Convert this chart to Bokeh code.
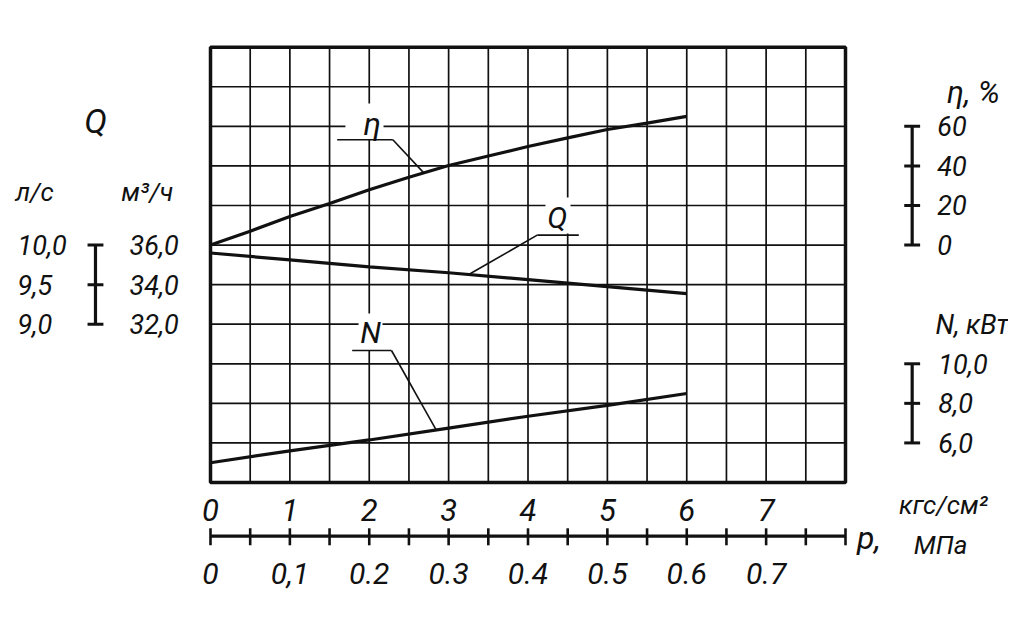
import numpy as np
from bokeh.plotting import figure
from bokeh.models import Range1d
from bokeh.core.properties import value
from bokeh.embed import file_html
from bokeh.resources import INLINE

# ---------------- data ----------------
pressure_eta = [0, 0.5, 1, 1.5, 2, 2.5, 3, 3.5, 4, 4.5, 5, 5.5, 6]          # kgf/cm2
efficiency = [0, 7, 14.4, 21, 28, 34.3, 40.2, 45, 49.8, 54.2, 58.4, 61.6, 65]  # %
pressure = [0, 1, 2, 3, 4, 5, 6]                                              # kgf/cm2
flow_m3h = [35.6, 35.25, 34.9, 34.6, 34.25, 33.9, 33.55]                      # m3/h
power_kw = [5.0, 5.6, 6.15, 6.75, 7.35, 7.9, 8.5]                             # kW

kgf_ticks = [0, 1, 2, 3, 4, 5, 6, 7]
kgf_labels = ["0", "1", "2", "3", "4", "5", "6", "7"]
mpa_ticks = [0, 0.1, 0.2, 0.3, 0.4, 0.5, 0.6, 0.7]
mpa_labels = ["0", "0,1", "0.2", "0.3", "0.4", "0.5", "0.6", "0.7"]

q_m3h_ticks = [32.0, 34.0, 36.0]
q_m3h_labels = ["32,0", "34,0", "36,0"]
q_ls_labels = ["9,0", "9,5", "10,0"]
eta_ticks = [0, 20, 40, 60]
eta_labels = ["0", "20", "40", "60"]
n_ticks = [6.0, 8.0, 10.0]
n_labels = ["6,0", "8,0", "10,0"]

# ---------------- geometry ----------------
W, H = 1008, 602
X0, X1 = 210.0, 845.0      # frame px of p = 0 and p = 8
Y0, Y1 = 482.0, 46.7       # frame px of grid bottom (u=0) and top (u=11)
NX, NY = 8.0, 11.0
sx = (X1 - X0) / NX
sy = (Y0 - Y1) / NY
x_start, x_end = -X0 / sx, (W - X0) / sx
y_start, y_end = -(H - Y0) / sy, Y0 / sy

FONT = "Roboto"
BLACK = "#111111"

p = figure(width=W, height=H, x_range=Range1d(x_start, x_end), y_range=Range1d(y_start, y_end),
           output_backend="svg", toolbar_location=None, min_border=0,
           x_axis_type=None, y_axis_type=None, outline_line_color=None,
           background_fill_color="white", border_fill_color="white")
p.xgrid.visible = False
p.ygrid.visible = False

# secondary scales (grid units u -> physical quantity)
p.extra_y_ranges = {
    "eta": Range1d(20 * (y_start - 6), 20 * (y_end - 6)),
    "Q": Range1d(24 + 2 * y_start, 24 + 2 * y_end),
    "N": Range1d(4 + 2 * y_start, 4 + 2 * y_end),
}
p.extra_x_ranges = {"mpa": Range1d(x_start / 10, x_end / 10)}


def txt(x, y, t, size, align="center", yr="default", xr="default", style="italic"):
    p.text(x=x, y=y, text=t, text_font=value(FONT), text_font_style=style,
           text_font_size=size, text_align=align, text_baseline="middle",
           text_color=BLACK, y_range_name=yr, x_range_name=xr)


# ---------------- grid ----------------
gx = np.arange(0.5, NX, 0.5)
gy = np.arange(1, NY, 1)
p.segment(x0=gx, y0=0, x1=gx, y1=NY, line_color=BLACK, line_width=1.7)
p.segment(x0=0, y0=gy, x1=NX, y1=gy, line_color=BLACK, line_width=1.7)

# white boxes behind curve labels
boxes_l = [1.70, 4.22, 1.865]
boxes_r = [2.18, 4.535, 2.167]
boxes_b = [8.67, 6.29, 3.34]
boxes_t = [9.58, 7.20, 4.27]
p.quad(left=boxes_l, right=boxes_r, bottom=boxes_b, top=boxes_t,
       fill_color="white", line_color=None)

# frame
p.rect(x=NX / 2, y=NY / 2, width=NX, height=NY, fill_color=None,
       line_color=BLACK, line_width=3.5)

# ---------------- curves ----------------
p.line(pressure_eta, efficiency, y_range_name="eta", line_color=BLACK, line_width=3.2)
p.line(pressure, flow_m3h, y_range_name="Q", line_color=BLACK, line_width=3.2)
p.line(pressure, power_kw, y_range_name="N", line_color=BLACK, line_width=3.2)

# leaders
eta_px = 2.687
q_px = 3.254
n_px = 2.843
eta_at = float(np.interp(eta_px, pressure_eta, efficiency))
q_at = float(np.interp(q_px, pressure, flow_m3h))
n_at = float(np.interp(n_px, pressure, power_kw))
p.line([1.596, 2.297], [8.66, 8.66], line_color=BLACK, line_width=1.6)
p.line([2.297, eta_px], [8.66, 6 + eta_at / 20], line_color=BLACK, line_width=1.6)
p.line([4.64, 4.116], [6.25, 6.25], line_color=BLACK, line_width=1.6)
p.line([4.116, q_px], [6.25, (q_at - 24) / 2], line_color=BLACK, line_width=1.6)
p.line([1.785, 2.28], [3.336, 3.336], line_color=BLACK, line_width=1.6)
p.line([2.28, n_px], [3.336, (n_at - 4) / 2], line_color=BLACK, line_width=1.6)

txt([2.037], [9.05], ["η"], "32px")
txt([4.368], [6.69], ["Q"], "30px")
txt([2.016], [3.78], ["N"], "30px")

# ---------------- bottom pressure scale ----------------
ybar = -1.357
st = np.arange(0, NX + 0.5, 0.5)
p.segment(x0=0, y0=ybar, x1=NX, y1=ybar, line_color=BLACK, line_width=3.2)
p.segment(x0=st, y0=ybar + 0.2, x1=st, y1=ybar - 0.23, line_color=BLACK, line_width=2.6)
txt(kgf_ticks, [-0.69] * len(kgf_ticks), kgf_labels, "31px")
txt(mpa_ticks, [-2.29] * len(mpa_ticks), mpa_labels, "30px", xr="mpa")
txt([8.145], [-1.40], ["р,"], "32px", align="left")
txt([9.235], [-0.57], ["кгс/см²"], "26px")
txt([9.197], [-1.58], ["МПа"], "26px")

# ---------------- left Q scale ----------------
xq = -1.449
p.segment(x0=xq, y0=q_m3h_ticks[0], x1=xq, y1=q_m3h_ticks[-1], y_range_name="Q",
          line_color=BLACK, line_width=3.2)
p.segment(x0=xq - 0.1, y0=q_m3h_ticks, x1=xq + 0.1, y1=q_m3h_ticks, y_range_name="Q",
          line_color=BLACK, line_width=3.0)
txt([-2.431] * 3, q_m3h_ticks, q_ls_labels, "27px", align="left", yr="Q")
txt([-1.02] * 3, q_m3h_ticks, q_m3h_labels, "27px", align="left", yr="Q")
txt([xq], [9.13], ["Q"], "34px")
txt([-2.217], [7.34], ["л/с"], "26px")
txt([-0.797], [7.34], ["м³/ч"], "26px")

# ---------------- right eta and N scales ----------------
xr_ = 8.84
p.segment(x0=xr_, y0=eta_ticks[0], x1=xr_, y1=eta_ticks[-1], y_range_name="eta",
          line_color=BLACK, line_width=3.2)
p.segment(x0=xr_ - 0.1, y0=eta_ticks, x1=xr_ + 0.1, y1=eta_ticks, y_range_name="eta",
          line_color=BLACK, line_width=3.0)
txt([9.155] * 4, eta_ticks, eta_labels, "27px", align="left", yr="eta")
txt([9.28], [9.86], ["η, %"], "31px", align="left")

p.segment(x0=xr_, y0=n_ticks[0], x1=xr_, y1=n_ticks[-1], y_range_name="N",
          line_color=BLACK, line_width=3.2)
p.segment(x0=xr_ - 0.1, y0=n_ticks, x1=xr_ + 0.1, y1=n_ticks, y_range_name="N",
          line_color=BLACK, line_width=3.0)
txt([9.17] * 3, n_ticks, n_labels, "27px", align="left", yr="N")
txt([9.134], [3.97], ["N, кВт"], "27px", align="left")

open("out.html", "w").write(file_html(p, INLINE))
